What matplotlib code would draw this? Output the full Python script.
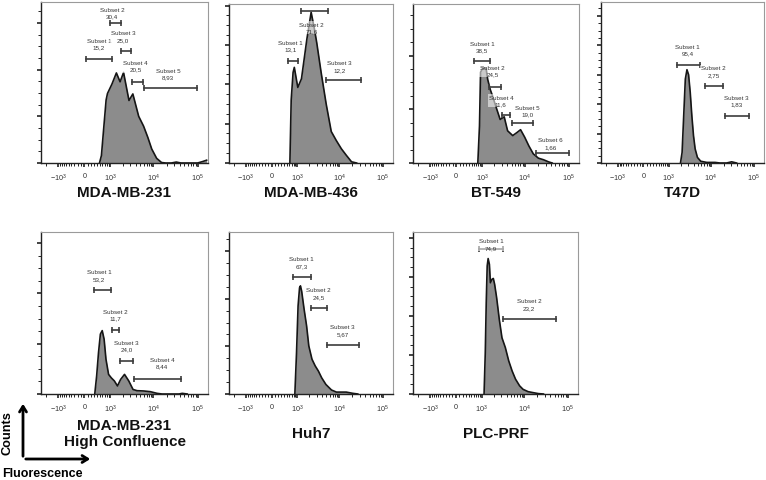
import numpy as np
import matplotlib
matplotlib.use('Agg')
import matplotlib.pyplot as plt
from matplotlib.ticker import MultipleLocator, FixedLocator, NullFormatter
from matplotlib.patches import FancyArrowPatch

plt.rcParams['font.family'] = ['Liberation Sans', 'DejaVu Sans']
plt.rcParams['mathtext.fontset'] = 'custom'
plt.rcParams['mathtext.rm'] = 'Liberation Sans'
plt.rcParams['mathtext.default'] = 'regular'

# ---- histogram traces (fluorescence, counts in major-tick units) ----
mda231_x = [480, 556, 663, 765, 835, 1090, 1406, 1726, 2083, 2783, 3415, 4642, 5995, 7480,
            9180, 11860, 15320, 19000, 25500, 33000, 42000, 100000, 129000, 160000]
mda231_y = [0, 0.16, 0.8, 1.35, 1.49, 1.69, 1.93, 1.74, 1.94, 1.34, 1.48, 1.0, 0.79, 0.55,
            0.3, 0.1, 0.01, 0, 0, 0.02, 0, 0, 0.03, 0.06]

mda436_x = [622, 681, 772, 836, 1036, 1286, 1540, 1746, 2208, 2643, 2997, 3787, 4958, 6500,
            8510, 11150, 14600, 19100, 25000]
mda436_y = [0, 1.6, 2.3, 2.43, 1.92, 2.14, 2.73, 3.15, 3.83, 3.4, 3.05, 2.3, 1.5, 0.8,
            0.57, 0.36, 0.19, 0.03, 0]

bt549_x = [770, 856, 913, 1055, 1264, 1383, 1596, 1811, 2286, 2738, 3398, 4064, 5330, 6730,
           8050, 10000, 12400, 15700, 20500, 26900, 35200, 42200]
bt549_y = [0, 0.69, 1.69, 1.77, 1.77, 1.56, 1.37, 1.25, 1.0, 0.81, 0.86, 0.6, 0.51, 0.57,
           0.62, 0.48, 0.32, 0.17, 0.09, 0.06, 0.02, 0]

t47d_x = [1959, 2142, 2340, 2557, 2795, 3053, 3337, 3644, 3981, 4350, 4920, 5870, 8090,
          12600, 16400, 23400, 30600, 39800]
t47d_y = [0, 0.36, 1.6, 2.85, 3.17, 3.0, 2.4, 1.6, 0.93, 0.48, 0.19, 0.06, 0.02,
          0.02, 0, 0, 0.04, 0]

mda231hc_x = [313, 377, 443, 514, 589, 671, 759, 893, 1054, 1254, 1493, 1778, 2193, 2750,
              3450, 4255, 6030, 8550, 12100, 15700, 38000, 44900, 58200]
mda231hc_y = [0, 0.36, 0.82, 1.19, 1.26, 1.09, 0.69, 0.39, 0.32, 0.26, 0.16, 0.29, 0.39, 0.26,
              0.09, 0.066, 0.06, 0.046, 0.013, 0, 0, 0.013, 0]

huh7_x = [865, 960, 1054, 1150, 1212, 1299, 1494, 1718, 1941, 2311, 2750, 3275, 3900, 4890,
          6580, 8550, 14400, 20400, 26600]
huh7_y = [0, 0.87, 1.85, 2.23, 2.27, 2.16, 1.78, 1.43, 1.01, 0.73, 0.59, 0.48, 0.34, 0.2,
          0.084, 0.04, 0.04, 0.014, 0]

plc_x = [1155, 1240, 1310, 1383, 1459, 1567, 1655, 1811, 1945, 2090, 2328, 2690, 3105, 3715,
         4446, 5330, 6380, 7910, 9480, 12400, 16300, 21300, 27900]
plc_y = [0, 1.06, 2.34, 3.28, 3.47, 3.32, 2.85, 2.94, 2.96, 2.81, 2.47, 1.91, 1.44, 1.19,
         0.85, 0.59, 0.38, 0.21, 0.12, 0.06, 0.034, 0.01, 0]

# ---- gates: names, percentages, bounds ----
mda231_names = ['Subset 1', 'Subset 2', 'Subset 3', 'Subset 4', 'Subset 5']
mda231_pct = ['15,2', '30,4', '25,0', '20,5', '8,93']
mda231_lo = [41, 1000, 1786, 3300, 6205]
mda231_hi = [1127, 1848, 3134, 5795, 96600]

mda436_names = ['Subset 1', 'Subset 2', 'Subset 3']
mda436_pct = ['13,1', '71,6', '12,2']
mda436_lo = [558, 1219, 4958]
mda436_hi = [1075, 5420, 31600]

bt549_names = ['Subset 1', 'Subset 2', 'Subset 4', 'Subset 5', 'Subset 6']
bt549_pct = ['38,5', '24,5', '11,6', '19,0', '1,66']
bt549_lo = [580, 1513, 2997, 5235, 17800]
bt549_hi = [1596, 2840, 4530, 15700, 100000]

t47d_names = ['Subset 1', 'Subset 2', 'Subset 3']
t47d_pct = ['95,4', '2,75', '1,83']
t47d_lo = [1585, 7400, 21400]
t47d_hi = [5670, 18900, 78000]

mda231hc_names = ['Subset 1', 'Subset 2', 'Subset 3', 'Subset 4']
mda231hc_pct = ['53,2', '11,7', '24,0', '8,44']
mda231hc_lo = [289, 1110, 1687, 3573]
mda231hc_hi = [1054, 1628, 3450, 41100]

huh7_names = ['Subset 1', 'Subset 2', 'Subset 3']
huh7_pct = ['67,3', '24,5', '5,67']
huh7_lo = [746, 2193, 5070]
huh7_hi = [2193, 5070, 28000]

plc_names = ['Subset 1', 'Subset 2']
plc_pct = ['74,9', '23,2']
plc_lo = [865, 3337]
plc_hi = [3220, 55200]

titles = ['MDA-MB-231', 'MDA-MB-436', 'BT-549', 'T47D',
          'MDA-MB-231\nHigh Confluence', 'Huh7', 'PLC-PRF']

# ---- layout (gate bar heights, label anchors, axes boxes in pixels) ----
bar_y = [[2.23, 3.0, 2.39, 1.74, 1.6], [2.6, 3.86, 2.11], [1.89, 1.42, 0.89, 0.75, 0.185],
         [3.34, 2.6, 1.61], [2.07, 1.28, 0.66, 0.30], [2.46, 1.81, 1.03], [3.71, 1.93]]
lab_x = [[455, 1090, 2046, 3913, 21540], [652, 2287, 10190], [1000, 1811, 2840, 11550, 38500],
         [2894, 11500, 39800], [472, 1300, 2434, 15700], [1299, 3275, 11700], [1713, 13000]]
lab_y = [[2.56, 3.22, 2.72, 2.08, 1.91], [2.99, 3.44, 2.46], [2.16, 1.72, 1.16, 0.98, 0.37],
         [3.85, 3.12, 2.12], [2.36, 1.58, 0.96, 0.62], [2.77, 2.12, 1.34], [3.84, 2.30]]
y_top = [3.45, 4.04, 2.96, 5.47, 3.22, 3.40, 4.15]
boxes = [(41, 3, 208, 164), (229, 5, 393, 164), (413, 5, 579, 164), (601, 3, 764, 164),
         (41, 233, 208, 395), (229, 233, 393, 395), (413, 233, 578, 395)]

W, H = 766, 481
W_LIN = 550.0


def fwd(x):
    return np.arcsinh(np.asarray(x, dtype=float) / W_LIN)


def inv(u):
    return W_LIN * np.sinh(u)


major_x = [-1000, 0, 1000, 10000, 100000]
major_lbl = [r'$-10^3$', '0', r'$10^3$', r'$10^4$', r'$10^5$']
minor_x = ([-k * 100 for k in range(1, 10)] + [k * 100 for k in range(1, 10)] + [-2000] +
           [k * 1000 for k in range(2, 10)] + [k * 10000 for k in range(2, 10)])

traces = [(mda231_x, mda231_y), (mda436_x, mda436_y), (bt549_x, bt549_y), (t47d_x, t47d_y),
          (mda231hc_x, mda231hc_y), (huh7_x, huh7_y), (plc_x, plc_y)]
gates = [(mda231_names, mda231_pct, mda231_lo, mda231_hi),
         (mda436_names, mda436_pct, mda436_lo, mda436_hi),
         (bt549_names, bt549_pct, bt549_lo, bt549_hi),
         (t47d_names, t47d_pct, t47d_lo, t47d_hi),
         (mda231hc_names, mda231hc_pct, mda231hc_lo, mda231hc_hi),
         (huh7_names, huh7_pct, huh7_lo, huh7_hi),
         (plc_names, plc_pct, plc_lo, plc_hi)]

fig = plt.figure(figsize=(W / 100, H / 100), dpi=100)

for i in range(7):
    x0, y0, x1, y1 = boxes[i]
    ax = fig.add_axes([x0 / W, 1 - y1 / H, (x1 - x0) / W, (y1 - y0) / H])
    ax.set_xscale('function', functions=(fwd, inv))
    xs, ys = traces[i]
    ax.fill_between(xs, ys, 0, color='#8c8c8c', lw=0, zorder=1)
    ax.plot(xs, ys, color='#151515', lw=1.2, zorder=2)

    names, pct, lo, hi = gates[i]
    for j in range(len(names)):
        ax.plot([lo[j], hi[j]], [bar_y[i][j]] * 2, color='#3c3c3c', lw=1.2, zorder=3)
        ax.plot([lo[j], hi[j]], [bar_y[i][j]] * 2, ls='none', marker='|', ms=5, mew=1.2,
                color='#3c3c3c', zorder=3)
        ax.text(lab_x[i][j], lab_y[i][j], names[j] + '\n' + pct[j], ha='center', va='center',
                fontsize=4.5, color='#333333', linespacing=1.4, zorder=4,
                bbox=dict(facecolor='white', alpha=0.55, edgecolor='none', pad=0.6))

    ax.set_xlim(-2600, 172000)
    ax.set_ylim(0, y_top[i])
    ax.xaxis.set_major_locator(FixedLocator(major_x))
    ax.set_xticklabels(major_lbl)
    ax.xaxis.set_minor_locator(FixedLocator(minor_x))
    ax.xaxis.set_minor_formatter(NullFormatter())
    ax.yaxis.set_major_locator(MultipleLocator(1))
    ax.yaxis.set_minor_locator(MultipleLocator(0.25))
    ax.set_yticklabels([])
    ax.tick_params(axis='both', which='major', direction='out', length=3.2, width=1.2,
                   color='#222222', labelsize=5.2, labelcolor='#333333', pad=3)
    ax.tick_params(axis='both', which='minor', direction='out', length=2.2, width=0.7,
                   color='#222222')
    for side in ['top', 'right']:
        ax.spines[side].set_color('#9a9a9a')
        ax.spines[side].set_linewidth(0.8)
    for side in ['left', 'bottom']:
        ax.spines[side].set_color('#222222')
        ax.spines[side].set_linewidth(1.0)

    cx = (x0 + x1) / 2 / W
    if i < 4:
        fig.text(cx, 1 - 193 / H, titles[i], ha='center', va='center', fontsize=11,
                 fontweight='bold', color='#111111')
    else:
        fig.text(cx, 1 - 434 / H, titles[i], ha='center', va='center', fontsize=11,
                 fontweight='bold', color='#111111', linespacing=1.1)

# Counts / Fluorescence key
origin = (23 / W, 1 - 460 / H)
fig.add_artist(FancyArrowPatch(origin, (23 / W, 1 - 402 / H), transform=fig.transFigure,
                               arrowstyle='->,head_length=4,head_width=2.5', lw=2, color='black'))
fig.add_artist(FancyArrowPatch(origin, (93 / W, 1 - 460 / H), transform=fig.transFigure,
                               arrowstyle='->,head_length=4,head_width=2.5', lw=2, color='black'))
fig.text(8 / W, 1 - 433 / H, 'Counts', rotation=90, ha='center', va='center', fontsize=9.2,
         fontweight='bold')
fig.text(42 / W, 1 - 474 / H, 'Fluorescence', ha='center', va='center', fontsize=9.0,
         fontweight='bold')

fig.savefig('out.png', dpi=100)
